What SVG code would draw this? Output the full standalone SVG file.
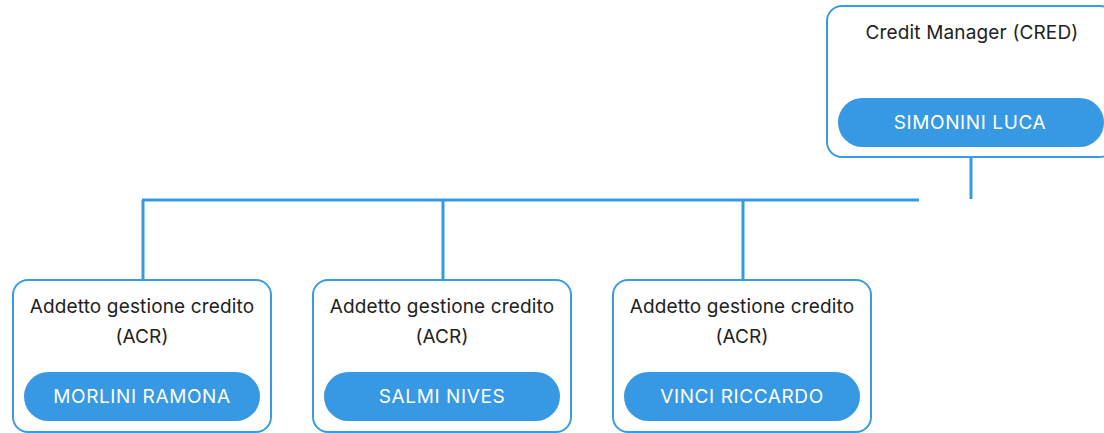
<svg xmlns="http://www.w3.org/2000/svg" width="1104" height="433" viewBox="0 0 1104 433">
<style>
.box{fill:#fff;stroke:#3a9ce5;stroke-width:2}
.pill{fill:#3799e3}
.lbl{font-family:Inter,"Liberation Sans",sans-serif;font-size:19px;letter-spacing:0.15px;fill:#222;text-anchor:middle}
.name{font-family:Inter,"Liberation Sans",sans-serif;font-size:19px;letter-spacing:0.6px;fill:#fff;text-anchor:middle}
.conn{stroke:#3799e3;stroke-width:3;fill:none}
</style>
<g id="connectors">
<line class="conn" x1="971" y1="158" x2="971" y2="199"/>
<line class="conn" x1="142" y1="200" x2="919" y2="200"/>
<line class="conn" x1="143" y1="200" x2="143" y2="280"/>
<line class="conn" x1="443" y1="200" x2="443" y2="280"/>
<line class="conn" x1="743" y1="200" x2="743" y2="280"/>
</g>
<g id="cred">
<rect class="box" x="827" y="6" width="288" height="151" rx="15"/>
<text class="lbl" x="972" y="39">Credit Manager (CRED)</text>
<rect class="pill" x="838" y="98" width="266" height="49" rx="24.5"/>
<text class="name" x="970" y="129">SIMONINI LUCA</text>
</g>
<g id="acr1">
<rect class="box" x="13" y="280" width="258" height="152" rx="15"/>
<text class="lbl" x="142" y="313">Addetto gestione credito</text>
<text class="lbl" x="142" y="343">(ACR)</text>
<rect class="pill" x="24" y="372" width="236" height="49" rx="24.5"/>
<text class="name" x="142" y="403">MORLINI RAMONA</text>
</g>
<g id="acr2">
<rect class="box" x="313" y="280" width="258" height="152" rx="15"/>
<text class="lbl" x="442" y="313">Addetto gestione credito</text>
<text class="lbl" x="442" y="343">(ACR)</text>
<rect class="pill" x="324" y="372" width="236" height="49" rx="24.5"/>
<text class="name" x="442" y="403">SALMI NIVES</text>
</g>
<g id="acr3">
<rect class="box" x="613" y="280" width="258" height="152" rx="15"/>
<text class="lbl" x="742" y="313">Addetto gestione credito</text>
<text class="lbl" x="742" y="343">(ACR)</text>
<rect class="pill" x="624" y="372" width="236" height="49" rx="24.5"/>
<text class="name" x="742" y="403">VINCI RICCARDO</text>
</g>
</svg>
